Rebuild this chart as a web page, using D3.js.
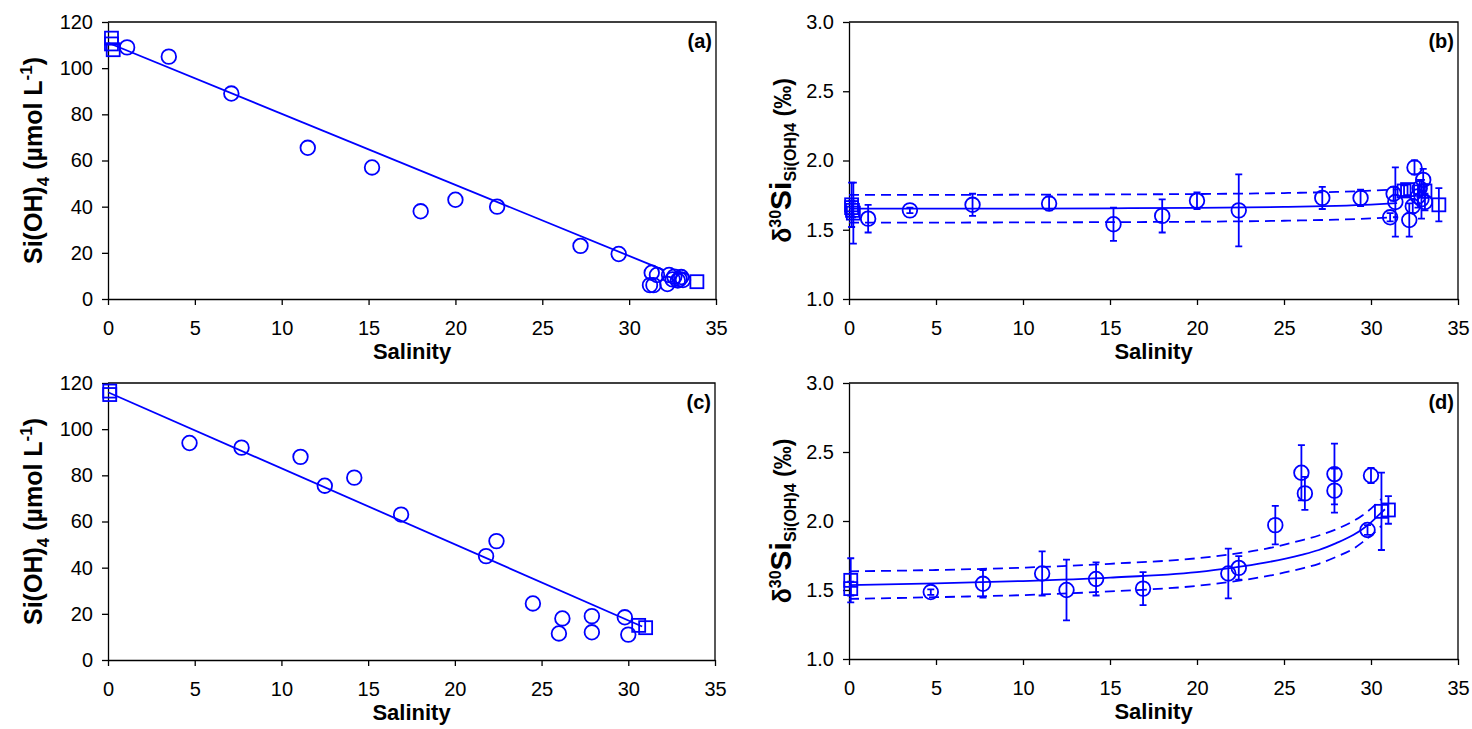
<!DOCTYPE html>
<html>
<head>
<meta charset="utf-8">
<script src="https://cdn.jsdelivr.net/npm/d3@7"></script>
<style>
  body { margin: 0; background: #fff; }
  svg { display: block; }
  text { font-family: "Liberation Sans", Arial, sans-serif; }
</style>
</head>
<body>
<svg id="chart" width="1472" height="729"></svg>
<script>
// ---------- Panel (a): Si(OH)4 vs salinity ----------
const aCircSal = [1.1, 3.5, 7.1, 11.5, 15.2, 18.0, 20.0, 22.4, 27.2, 29.4, 31.2, 31.4, 31.3, 31.6, 32.2, 32.3, 32.6, 32.5, 32.9, 32.8, 33.1, 33.0];
const aCircSi  = [109, 105, 89, 65.5, 57, 38, 43, 40, 23, 19.5, 6, 6, 11.4, 10.4, 6.5, 10.4, 9.7, 8.5, 8.6, 8, 8.2, 9.5];
const aSqSal   = [0.2, 0.2, 0.3, 33.9];
const aSqSi    = [113, 110.5, 108, 7.5];
const aLineSal = [0, 32.0];
const aLineSi  = [111, 12.5];

// ---------- Panel (b): d30Si vs salinity ----------
const bCircSal = [1.1, 3.5, 7.1, 11.5, 15.2, 18.0, 20.0, 22.4, 27.2, 29.4, 31.1, 31.3, 31.4, 32.2, 32.5, 32.4, 32.7, 32.8, 32.9, 33.0, 33.1];
const bCircD   = [1.58, 1.64, 1.68, 1.69, 1.54, 1.60, 1.71, 1.64, 1.73, 1.73, 1.59, 1.76, 1.70, 1.57, 1.95, 1.67, 1.74, 1.80, 1.72, 1.86, 1.70];
const bCircErr = [0.10, 0.02, 0.08, 0.05, 0.12, 0.12, 0.06, 0.26, 0.08, 0.06, 0.03, 0.05, 0.25, 0.12, 0.05, 0.05, 0.08, 0.06, 0.14, 0.08, 0.06];
const bSqSal   = [0.15, 0.15, 0.2, 0.25, 31.9, 32.1, 33.1, 33.9];
const bSqD     = [1.68, 1.66, 1.64, 1.62, 1.78, 1.79, 1.78, 1.68];
const bSqErr   = [0.16, 0.05, 0.05, 0.22, 0.04, 0.04, 0.05, 0.12];
const bCurveSal = [0, 5, 10, 15, 20, 25, 28, 30, 31.5];
const bMid  = [1.652, 1.652, 1.653, 1.655, 1.658, 1.665, 1.673, 1.682, 1.692];
const bHigh = [1.752, 1.752, 1.753, 1.755, 1.758, 1.765, 1.773, 1.782, 1.792];
const bLow  = [1.552, 1.552, 1.553, 1.555, 1.558, 1.565, 1.573, 1.582, 1.592];

// ---------- Panel (c): Si(OH)4 vs salinity ----------
const cCircSal = [4.7, 7.7, 11.1, 12.5, 14.2, 16.9, 21.8, 22.4, 24.5, 26.0, 26.2, 27.9, 27.9, 29.8, 30.0];
const cCircSi  = [94, 92, 88, 75.5, 79, 63, 45, 51.5, 24.5, 11.5, 18, 19, 12, 18.5, 11];
const cSqSal   = [0.1, 0.1, 30.6, 31.0];
const cSqSi    = [116.5, 115, 15, 14];
const cLineSal = [0, 30.8];
const cLineSi  = [116, 14.5];

// ---------- Panel (d): d30Si vs salinity ----------
const dCircSal = [4.7, 7.7, 11.1, 12.5, 14.2, 16.9, 21.8, 22.4, 24.5, 26.0, 26.2, 27.9, 27.9, 29.8, 30.0];
const dCircD   = [1.485, 1.545, 1.62, 1.50, 1.58, 1.51, 1.62, 1.66, 1.97, 2.35, 2.20, 2.34, 2.22, 1.935, 2.33];
const dCircErr = [0.02, 0.10, 0.16, 0.22, 0.12, 0.12, 0.18, 0.085, 0.14, 0.20, 0.12, 0.22, 0.16, 0.035, 0.055];
const dSqSal   = [0.1, 0.1, 30.6, 31.0];
const dSqD     = [1.57, 1.51, 2.07, 2.08];
const dSqErr   = [0.16, 0.05, 0.28, 0.10];
const dMidSal  = [0, 5, 10, 15, 20, 22, 24, 26, 27, 28, 29, 29.5, 30, 30.5, 30.8];
const dMid     = [1.535, 1.548, 1.565, 1.59, 1.63, 1.66, 1.70, 1.755, 1.79, 1.84, 1.90, 1.94, 1.99, 2.05, 2.085];
const dBandSal = [0, 5, 10, 15, 20, 22, 24, 26, 27, 28, 29, 29.5, 30, 30.6];
const dHigh    = [1.635, 1.645, 1.662, 1.69, 1.73, 1.76, 1.80, 1.86, 1.895, 1.94, 2.0, 2.04, 2.09, 2.16];
const dLow     = [1.435, 1.448, 1.463, 1.49, 1.53, 1.56, 1.60, 1.655, 1.69, 1.74, 1.80, 1.845, 1.895, 1.965];

// ---------- Axis ticks ----------
const salTicks = [0, 5, 10, 15, 20, 25, 30, 35];
const siTicks = [0, 20, 40, 60, 80, 100, 120];
const deltaTicks = [1.0, 1.5, 2.0, 2.5, 3.0];

const BLUE = "#0000ff";
const svg = d3.select("#chart");
const zip = (a, b, c) => a.map((v, i) => c ? [v, b[i], c[i]] : [v, b[i]]);

function siTitle(g, x, y) {
  const t = g.append("text")
    .attr("transform", `translate(${x},${y}) rotate(-90)`)
    .attr("text-anchor", "middle")
    .attr("font-weight", "bold")
    .attr("font-size", 25);
  t.append("tspan").text("Si(OH)");
  t.append("tspan").attr("font-size", 17).attr("dy", 7).text("4");
  t.append("tspan").attr("dy", -7).text(" (µmol L");
  t.append("tspan").attr("font-size", 17).attr("dy", -10).text("-1");
  t.append("tspan").attr("dy", 10).text(")");
}

function deltaTitle(g, x, y) {
  const t = g.append("text")
    .attr("transform", `translate(${x},${y}) rotate(-90)`)
    .attr("text-anchor", "middle")
    .attr("font-weight", "bold")
    .attr("font-size", 23);
  t.append("tspan").attr("font-size", 25).text("δ");
  t.append("tspan").attr("font-size", 16).attr("dy", -10).text("30");
  t.append("tspan").attr("font-size", 30).attr("dy", 10).text("Si");
  t.append("tspan").attr("font-size", 16).attr("dy", 5).text("Si(OH)4");
  t.append("tspan").attr("dy", -5).text(" (‰)");
}

function panel(o) {
  const g = svg.append("g");
  const x = d3.scaleLinear().domain([0, 35]).range([o.left, o.right]);
  const y = d3.scaleLinear().domain(o.yDomain).range([o.bottom, o.top]);

  // frame: top and right edges
  g.append("path")
    .attr("d", `M${o.left},${o.top}H${o.right}V${o.bottom}`)
    .attr("fill", "none").attr("stroke", "#000").attr("stroke-width", 1.3);

  const xAxis = g.append("g").attr("transform", `translate(0,${o.bottom})`)
    .call(d3.axisBottom(x).tickValues(salTicks).tickSize(6).tickSizeOuter(0).tickPadding(16).tickFormat(d3.format("d")));
  const yAxis = g.append("g").attr("transform", `translate(${o.left},0)`)
    .call(d3.axisLeft(y).tickValues(o.yTicks).tickSize(6).tickSizeOuter(0).tickPadding(9).tickFormat(o.yFormat));
  [xAxis, yAxis].forEach(a => {
    a.selectAll("path,line").attr("stroke", "#000").attr("stroke-width", 1.3);
    a.selectAll("text").attr("font-size", 20).attr("fill", "#000")
      .style("font-family", '"Liberation Sans", Arial, sans-serif');
  });

  const line = d3.line().x(d => x(d[0])).y(d => y(d[1])).curve(d3.curveMonotoneX);

  (o.lines || []).forEach(l => {
    g.append("path").datum(l.pts).attr("d", line)
      .attr("fill", "none").attr("stroke", BLUE).attr("stroke-width", 1.8)
      .attr("stroke-dasharray", l.dash ? "10,6" : null);
  });

  // error bars
  (o.errs || []).forEach(d => {
    const [sx, v, e] = d;
    const xx = x(sx), y1 = y(v - e), y2 = y(v + e);
    g.append("path")
      .attr("d", `M${xx},${y1}V${y2}M${xx - 3.5},${y1}H${xx + 3.5}M${xx - 3.5},${y2}H${xx + 3.5}`)
      .attr("fill", "none").attr("stroke", BLUE).attr("stroke-width", 1.8);
  });

  g.selectAll(".circ").data(o.circles).join("circle")
    .attr("cx", d => x(d[0])).attr("cy", d => y(d[1])).attr("r", 7.3)
    .attr("fill", "none").attr("stroke", BLUE).attr("stroke-width", 1.8);

  g.selectAll(".sq").data(o.squares).join("rect")
    .attr("x", d => x(d[0]) - 6.5).attr("y", d => y(d[1]) - 6.5)
    .attr("width", 13).attr("height", 13)
    .attr("fill", "none").attr("stroke", BLUE).attr("stroke-width", 1.8);

  // panel tag
  g.append("text").attr("x", o.right - 4).attr("y", o.top + 26)
    .attr("text-anchor", "end").attr("font-weight", "bold").attr("font-size", 20)
    .text(o.tag);

  // x title
  g.append("text").attr("x", (o.left + o.right) / 2).attr("y", o.bottom + 60)
    .attr("text-anchor", "middle").attr("font-weight", "bold").attr("font-size", 22)
    .text("Salinity");

  o.title(g, o.left + o.titleDx, (o.top + o.bottom) / 2);
}

const fmt1 = d3.format(".1f");

panel({
  left: 108, right: 716, top: 22, bottom: 299, yDomain: [0, 120], yTicks: siTicks, yFormat: d3.format("d"),
  circles: zip(aCircSal, aCircSi), squares: zip(aSqSal, aSqSi),
  lines: [{ pts: zip(aLineSal, aLineSi) }], tag: "(a)", title: siTitle, titleDx: -66
});

panel({
  left: 849, right: 1458, top: 22, bottom: 299, yDomain: [1, 3], yTicks: deltaTicks, yFormat: fmt1,
  circles: zip(bCircSal, bCircD), squares: zip(bSqSal, bSqD),
  errs: zip(bCircSal, bCircD, bCircErr).concat(zip(bSqSal, bSqD, bSqErr)),
  lines: [{ pts: zip(bCurveSal, bMid) }, { pts: zip(bCurveSal, bHigh), dash: true }, { pts: zip(bCurveSal, bLow), dash: true }],
  tag: "(b)", title: deltaTitle, titleDx: -58
});

panel({
  left: 108, right: 715, top: 383, bottom: 660, yDomain: [0, 120], yTicks: siTicks, yFormat: d3.format("d"),
  circles: zip(cCircSal, cCircSi), squares: zip(cSqSal, cSqSi),
  lines: [{ pts: zip(cLineSal, cLineSi) }], tag: "(c)", title: siTitle, titleDx: -66
});

panel({
  left: 849, right: 1458, top: 383, bottom: 659, yDomain: [1, 3], yTicks: deltaTicks, yFormat: fmt1,
  circles: zip(dCircSal, dCircD), squares: zip(dSqSal, dSqD),
  errs: zip(dCircSal, dCircD, dCircErr).concat(zip(dSqSal, dSqD, dSqErr)),
  lines: [{ pts: zip(dMidSal, dMid) }, { pts: zip(dBandSal, dHigh), dash: true }, { pts: zip(dBandSal, dLow), dash: true }],
  tag: "(d)", title: deltaTitle, titleDx: -58
});
</script>
</body>
</html>
